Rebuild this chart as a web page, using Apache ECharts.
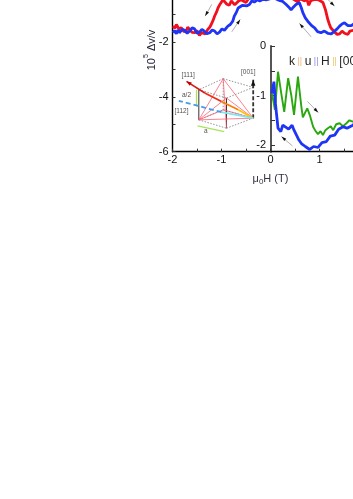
<!DOCTYPE html>
<html><head><meta charset="utf-8">
<style>html,body{margin:0;padding:0;background:#fff;overflow:hidden}#c{width:353px;height:499px}</style>
<script src="https://cdn.jsdelivr.net/npm/echarts@6/dist/echarts.min.js"></script>
</head><body><div id="c"></div>
<script>
// Main panel: field (T), 10^5 dv/v
const mainRed = [[-1.99,-1.42],[-1.95,-1.5],[-1.92,-1.36],[-1.87,-1.52],[-1.82,-1.48],[-1.77,-1.62],[-1.72,-1.60],[-1.69,-1.46],[-1.65,-1.48],[-1.6,-1.65],[-1.55,-1.66],[-1.5,-1.58],[-1.45,-1.76],[-1.41,-1.66],[-1.38,-1.60],[-1.33,-1.7],[-1.28,-1.54],[-1.24,-1.46],[-1.21,-1.36],[-1.17,-1.2],[-1.14,-1.05],[-1.1,-0.9],[-1.07,-0.75],[-1.03,-0.62],[-1.0,-0.56],[-0.97,-0.46],[-0.94,-0.52],[-0.89,-0.62],[-0.84,-0.66],[-0.8,-0.5],[-0.77,-0.48],[-0.73,-0.64],[-0.70,-0.62],[-0.65,-0.5],[-0.60,-0.46],[-0.5,-0.56],[-0.45,-0.42],[-0.2,-0.3],[0.1,-0.28],[0.4,-0.36],[0.56,-0.54],[0.6,-0.42],[0.63,-0.46],[0.7,-0.5],[0.74,-0.42],[0.78,-0.66],[0.82,-0.5],[0.87,-0.46],[0.95,-0.44],[1.0,-0.48],[1.07,-0.56],[1.12,-0.81],[1.17,-1.18],[1.2,-1.34],[1.23,-1.48],[1.27,-1.54],[1.31,-1.64],[1.36,-1.72],[1.41,-1.70],[1.46,-1.6],[1.51,-1.68],[1.58,-1.72],[1.62,-1.6],[1.65,-1.62],[1.72,-1.56]];
const mainBlue = [[-1.99,-1.66],[-1.96,-1.58],[-1.92,-1.70],[-1.89,-1.56],[-1.86,-1.66],[-1.8,-1.54],[-1.75,-1.57],[-1.7,-1.68],[-1.65,-1.60],[-1.6,-1.48],[-1.55,-1.52],[-1.5,-1.68],[-1.45,-1.64],[-1.4,-1.54],[-1.35,-1.60],[-1.3,-1.7],[-1.24,-1.66],[-1.19,-1.56],[-1.14,-1.60],[-1.09,-1.7],[-1.04,-1.64],[-0.99,-1.52],[-0.94,-1.57],[-0.9,-1.5],[-0.87,-1.42],[-0.82,-1.36],[-0.77,-1.24],[-0.74,-1.06],[-0.70,-0.93],[-0.66,-0.76],[-0.62,-0.71],[-0.57,-0.66],[-0.53,-0.6],[-0.48,-0.68],[-0.43,-0.63],[-0.38,-0.5],[-0.33,-0.54],[-0.27,-0.46],[-0.22,-0.5],[-0.15,-0.44],[-0.09,-0.46],[0.0,-0.42],[0.08,-0.4],[0.18,-0.48],[0.25,-0.52],[0.32,-0.63],[0.37,-0.72],[0.42,-0.83],[0.47,-0.72],[0.52,-0.63],[0.59,-0.57],[0.63,-0.76],[0.66,-0.93],[0.71,-1.12],[0.76,-1.24],[0.8,-1.3],[0.84,-1.4],[0.90,-1.48],[0.96,-1.62],[1.03,-1.66],[1.1,-1.6],[1.17,-1.68],[1.24,-1.7],[1.31,-1.60],[1.36,-1.52],[1.41,-1.42],[1.46,-1.34],[1.51,-1.30],[1.58,-1.4],[1.65,-1.40],[1.72,-1.32]];
// Inset panel
const insetGreen = [[0.02,-0.96],[0.08,-1.29],[0.143,-0.52],[0.21,-0.96],[0.27,-1.33],[0.35,-0.65],[0.415,-1.0],[0.47,-1.39],[0.55,-0.62],[0.62,-1.23],[0.65,-1.44],[0.74,-1.26],[0.79,-1.39],[0.86,-1.63],[0.91,-1.72],[0.96,-1.78],[1.01,-1.72],[1.06,-1.80],[1.11,-1.70],[1.16,-1.66],[1.22,-1.62],[1.27,-1.70],[1.33,-1.58],[1.40,-1.56],[1.47,-1.62],[1.54,-1.56],[1.6,-1.5],[1.67,-1.53],[1.72,-1.5]];
const insetBlue = [[0.02,-0.96],[0.06,-0.72],[0.09,-1.16],[0.143,-1.66],[0.2,-1.73],[0.24,-1.6],[0.28,-1.62],[0.36,-1.68],[0.43,-1.60],[0.47,-1.7],[0.52,-1.80],[0.57,-1.9],[0.62,-1.97],[0.7,-2.03],[0.79,-2.09],[0.87,-2.03],[0.96,-2.05],[1.04,-1.95],[1.13,-1.93],[1.21,-1.82],[1.30,-1.80],[1.38,-1.68],[1.47,-1.63],[1.55,-1.66],[1.67,-1.60],[1.72,-1.56]];
const insetYLabels = [0,-1,-2];
const insetYTicks = [0,-0.5,-1,-1.5,-2];
// Sweep-direction arrows: [tailX, tailY, headX, headY]
const sweepArrows = [[-1.198,-0.626,-1.333,-1.055],[-0.79,-1.626,-0.618,-1.176],[0.83,-1.81,0.592,-1.322],[1.169,-0.443,1.306,-0.688],[0.755,-4.168,0.973,-4.571],[0.449,-5.791,0.224,-5.45]];
// Crystal sketch vertices in main-axis units
const T=[-0.965,-3.337],R=[-0.353,-4.776],RT=[-0.353,-3.655],L=[-1.463,-4.839],LT=[-1.463,-3.74],B=[-0.898,-5.143],C=[-0.898,-4.044],K=[-0.965,-4.472];
const dottedEdges = [[T,RT],[T,LT],[RT,C],[LT,C],[L,K],[K,R],[L,B],[B,R],[T,K]];
const solidEdges = [[L,LT],[C,B]];
const pinkEdges = [[T,L],[T,R],[T,B],[L,R],[L,C],[R,C],[L,K],[K,R]];
const arrow111 = [[-0.353,-4.776],[-0.659,-4.472],[-1.0,-4.168],[-1.341,-3.861],[-1.714,-3.436]];
const arrow112 = [[-0.353,-4.776],[-1.0,-4.557],[-1.443,-4.388],[-1.51,-4.35],[-1.871,-4.143]];
const arrow001 = [[-0.353,-4.776],[-0.353,-3.373]];
const greenDims = [[[-1.51,-3.74],[-1.51,-4.35]],[[-1.49,-5.06],[-0.945,-5.267]]];
const sketchLabels = [['[111]',-1.68,-3.216],['a/2',-1.714,-3.948],['[112]',-1.816,-4.509],['a',-1.32,-5.267],['[001]',-0.455,-3.09]];

const FONT='"Liberation Sans",Arial,sans-serif';
function head(api,p,q,size,w){
  const dx=q[0]-p[0],dy=q[1]-p[1],l=Math.hypot(dx,dy)||1,ux=dx/l,uy=dy/l;
  return [[q[0],q[1]],[q[0]-ux*size-uy*w,q[1]-uy*size+ux*w],[q[0]-ux*size+uy*w,q[1]-uy*size-ux*w]];
}
function segSeries(edges,style){
  return {type:'custom',xAxisIndex:0,yAxisIndex:0,clip:false,silent:true,z:style.z||4,
    data:edges.map(e=>[e[0][0],e[0][1],e[1][0],e[1][1]]),
    encode:{x:[0,2],y:[1,3]},
    renderItem:(p,api)=>{
      const a=api.coord([api.value(0),api.value(1)]),b=api.coord([api.value(2),api.value(3)]);
      return {type:'line',shape:{x1:a[0],y1:a[1],x2:b[0],y2:b[1]},style:{stroke:style.color,lineWidth:style.width,lineDash:style.dash||null}};
    }};
}
function arrowSeries(list,tailColor,headColor,size,w,lw,dash){
  return {type:'custom',xAxisIndex:0,yAxisIndex:0,clip:false,silent:true,z:5,
    data:list,encode:{x:[0,2],y:[1,3]},
    renderItem:(p,api)=>{
      const a=api.coord([api.value(0),api.value(1)]),b=api.coord([api.value(2),api.value(3)]);
      return {type:'group',children:[
        {type:'line',shape:{x1:a[0],y1:a[1],x2:b[0],y2:b[1]},style:{stroke:tailColor,lineWidth:lw,lineDash:dash||null}},
        {type:'polygon',shape:{points:head(api,a,b,size,w)},style:{fill:headColor}}]};
    }};
}
const chart=echarts.init(document.getElementById('c'),null,{renderer:'canvas'});
chart.setOption({
  animation:false,backgroundColor:'#fff',
  grid:[
    {left:172.5,top:-12.8,width:196,height:164.5,containLabel:false,outerBoundsMode:'none'},
    {left:271,top:46,width:98,height:105.7,containLabel:false,outerBoundsMode:'none'}
  ],
  xAxis:[
    {type:'value',gridIndex:0,min:-2,max:2,interval:1,
     axisLine:{onZero:false,lineStyle:{color:'#000',width:1.4}},
     axisTick:{inside:true,length:3,lineStyle:{color:'#333',width:1}},
     minorTick:{show:true,splitNumber:2,length:3,lineStyle:{color:'#333',width:1}},
     splitLine:{show:false},
     axisLabel:{color:'#111',fontFamily:FONT,fontSize:11,margin:3,showMaxLabel:false,formatter:v=>String(v)},
     name:'{t|μ}{sub|0}{t|H (T)}',nameLocation:'middle',nameGap:20,
     nameTextStyle:{rich:{t:{fontFamily:FONT,fontSize:11,color:'#334',lineHeight:14},sub:{fontFamily:FONT,fontSize:8,color:'#334',verticalAlign:'bottom',lineHeight:10}}}},
    {type:'value',gridIndex:1,min:0,max:2,show:false}
  ],
  yAxis:[
    {type:'value',gridIndex:0,min:-6,max:0,interval:2,
     axisLine:{onZero:false,lineStyle:{color:'#000',width:1.4}},
     axisTick:{inside:true,length:3,lineStyle:{color:'#333',width:1}},
     minorTick:{show:true,splitNumber:2,length:3,lineStyle:{color:'#333',width:1}},
     splitLine:{show:false},
     axisLabel:{color:'#111',fontFamily:FONT,fontSize:11,margin:4,showMaxLabel:false,formatter:v=>String(v)}},
    {type:'value',gridIndex:1,min:-2.135,max:0,
     axisLine:{onZero:false,lineStyle:{color:'#555',width:2}},
     axisTick:{inside:true,length:4,customValues:insetYTicks,lineStyle:{color:'#333',width:1}},
     splitLine:{show:false},
     axisLabel:{color:'#111',fontFamily:FONT,fontSize:11,margin:5,customValues:insetYLabels,formatter:v=>String(v)}}
  ],
  graphic:[
    {type:'text',x:150,y:50,rotation:Math.PI/2*1,scaleX:1,z:20,silent:true,invisible:true,style:{text:''}},
    {type:'text',x:150,y:50,rotation:Math.PI/2,z:20,silent:true,
     style:{text:'{a|10}{b|5}{a| Δv/v}',align:'center',verticalAlign:'middle',rich:{a:{font:'11px '+FONT,fill:'#223',lineHeight:14,verticalAlign:'bottom'},b:{font:'7px '+FONT,fill:'#223',lineHeight:14,verticalAlign:'top'}}}},
    {type:'text',x:289,y:62,z:20,silent:true,
     style:{text:'{t|k}{o| || }{t|u}{p| || }{t|H}{y| || }{t|[001]}',align:'left',verticalAlign:'middle',
       rich:{t:{font:'12px '+FONT,fill:'#222'},o:{font:'9px '+FONT,fill:'#efb67c'},p:{font:'9px '+FONT,fill:'#8f8be8'},y:{font:'9px '+FONT,fill:'#efc45c'}}}}
  ],
  series:[
    segSeries(dottedEdges,{color:'#777',width:0.8,dash:[1.5,1.5]}),
    segSeries(solidEdges,{color:'#333',width:1}),
    segSeries(pinkEdges,{color:'#ff5f75',width:0.8}),
    segSeries(greenDims,{color:'#a8e45a',width:1.3}),
    arrowSeries([[arrow001[0][0],arrow001[0][1],arrow001[1][0],arrow001[1][1]]],'#333','#111',6,2.2,1.8,[4,2]),
    segSeries([[arrow111[2],arrow111[3]]],{color:'#f02a10',width:1.7,z:6}),
    segSeries([[arrow111[1],arrow111[2]]],{color:'#ff7a00',width:1.7,z:6}),
    segSeries([[arrow111[0],arrow111[1]]],{color:'#ffc000',width:1.7,z:6}),
    arrowSeries([[arrow111[3][0],arrow111[3][1],arrow111[4][0],arrow111[4][1]]],'#d81c1c','#c00000',5,2,1.7),
    segSeries([[arrow112[0],arrow112[1]]],{color:'#7be8ee',width:1.8,z:6}),
    segSeries([[arrow112[1],arrow112[4]]],{color:'#3f9df0',width:1.8,dash:[5,3],z:6}),
    {type:'line',xAxisIndex:0,yAxisIndex:0,data:mainRed,showSymbol:false,symbol:'none',clip:false,lineStyle:{color:'#f0101e',width:2.8},z:3},
    {type:'line',xAxisIndex:0,yAxisIndex:0,data:mainBlue,showSymbol:false,symbol:'none',clip:false,lineStyle:{color:'#1f35f5',width:2.8},z:3},
    {type:'line',xAxisIndex:1,yAxisIndex:1,data:insetGreen,showSymbol:false,symbol:'none',clip:false,lineStyle:{color:'#2aa70f',width:1.9},z:3},
    {type:'line',xAxisIndex:1,yAxisIndex:1,data:insetBlue,showSymbol:false,symbol:'none',clip:false,lineStyle:{color:'#1f35f5',width:2.8},z:3},
    arrowSeries(sweepArrows,'#999','#111',5,1.6,0.8),
    {type:'scatter',xAxisIndex:0,yAxisIndex:0,symbolSize:0,silent:true,z:7,
     data:sketchLabels.map(l=>({value:[l[1],l[2]],name:l[0]})),
     label:{show:true,position:'inside',formatter:p=>p.name,fontFamily:FONT,fontSize:6.5,color:'#222'}}
  ]
});
</script></body></html>
